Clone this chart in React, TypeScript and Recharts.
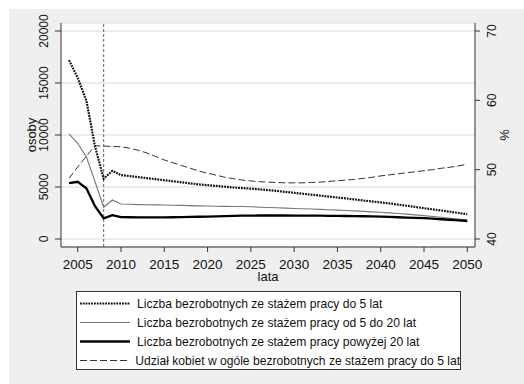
import React from "react";
import { LineChart, Line, XAxis, YAxis, CartesianGrid, ReferenceLine } from "recharts";

const years = [
  2004, 2005, 2006, 2007, 2008, 2009, 2010, 2011, 2012, 2013, 2014, 2015, 2016, 2017, 2018, 2019,
  2020, 2021, 2022, 2023, 2024, 2025, 2026, 2027, 2028, 2029, 2030, 2031, 2032, 2033, 2034, 2035,
  2036, 2037, 2038, 2039, 2040, 2041, 2042, 2043, 2044, 2045, 2046, 2047, 2048, 2049, 2050,
];

// liczba bezrobotnych ze stażem pracy do 5 lat
const stazDo5 = [
  17200, 15500, 13300, 8900, 5800, 6550, 6150, 6050, 5950, 5850, 5750, 5650, 5550, 5450, 5350, 5250,
  5180, 5100, 5030, 4950, 4900, 4840, 4780, 4700, 4620, 4530, 4440, 4350, 4260, 4170, 4080, 3990,
  3900, 3800, 3700, 3610, 3520, 3420, 3310, 3200, 3080, 2960, 2850, 2740, 2620, 2500, 2380,
];

// od 5 do 20 lat
const staz5do20 = [
  10100, 9200, 7900, 5500, 3050, 3750, 3370, 3340, 3310, 3290, 3280, 3270, 3250, 3230, 3210, 3190,
  3170, 3150, 3140, 3130, 3120, 3100, 3060, 3030, 3000, 2970, 2940, 2910, 2880, 2850, 2810, 2780,
  2740, 2700, 2660, 2610, 2570, 2510, 2450, 2390, 2320, 2250, 2170, 2090, 2000, 1910, 1820,
];

// powyżej 20 lat
const stazPow20 = [
  5380, 5500, 4880, 3150, 1990, 2300, 2100, 2090, 2080, 2080, 2080, 2080, 2090, 2100, 2120, 2140,
  2160, 2180, 2200, 2220, 2240, 2250, 2260, 2260, 2260, 2260, 2250, 2250, 2240, 2240, 2230, 2220,
  2210, 2200, 2190, 2170, 2150, 2120, 2090, 2060, 2030, 2000, 1950, 1900, 1850, 1790, 1730,
];

// udział kobiet (%), prawa oś
const udzialKobiet = [
  48.75, 50.4, 51.95, 53.45, 53.4, 53.35, 53.3, 53.1, 52.8, 52.4, 51.9, 51.4, 51.0, 50.6, 50.2, 49.8,
  49.5, 49.2, 48.9, 48.7, 48.5, 48.37, 48.27, 48.2, 48.15, 48.1, 48.1, 48.1, 48.15, 48.2, 48.3, 48.4,
  48.5, 48.6, 48.75, 48.9, 49.1, 49.25, 49.4, 49.55, 49.7, 49.85, 50.0, 50.2, 50.35, 50.55, 50.77,
];

const xTicks = [2005, 2010, 2015, 2020, 2025, 2030, 2035, 2040, 2045, 2050];
const leftTicks = [0, 5000, 10000, 15000, 20000];
const rightTicks = [40, 50, 60, 70];

const seriesNames = [
  "Liczba bezrobotnych ze stażem pracy do 5 lat",
  "Liczba bezrobotnych ze stażem pracy od 5 do 20 lat",
  "Liczba bezrobotnych ze stażem pracy powyżej 20 lat",
  "Udział kobiet w ogóle bezrobotnych ze stażem pracy do 5 lat",
];

const LEFT_DOMAIN = [-769, 20769];
const RIGHT_DOMAIN = [38.846, 71.154];

const FONT = '"Liberation Sans", Arial, Helvetica, sans-serif';

const styles = [
  { stroke: "#111", strokeWidth: 2.2, strokeDasharray: "1.8 1" },
  { stroke: "#777", strokeWidth: 1.1, strokeDasharray: undefined },
  { stroke: "#000", strokeWidth: 2.3, strokeDasharray: undefined },
  { stroke: "#333", strokeWidth: 1, strokeDasharray: "7 3" },
];

const data = years.map((year, i) => ({
  year,
  s1: stazDo5[i],
  s2: staz5do20[i],
  s3: stazPow20[i],
  s4: udzialKobiet[i],
}));

// keeps the tick marks, the labels are drawn by AxisLabels
const noTickText = () => <g />;

const Rot = ({ x, y, size, children }: any) => (
  <g transform={`translate(${x},${y})`}>
    <text x={0} y={0} transform="rotate(-90)" textAnchor="middle" fontSize={size} fontFamily={FONT} fill="#111">
      {children}
    </text>
  </g>
);

// rotated tick labels + axis title, placed inside the axis box Recharts hands to the label
const AxisLabels = ({ viewBox, ticks, domain, tickX, title, titleX }: any) => {
  const { x, y, height } = viewBox;
  const [lo, hi] = domain;
  return (
    <g>
      {ticks.map((v: number) => (
        <Rot key={v} x={x + tickX} y={y + ((hi - v) / (hi - lo)) * height} size={12}>
          {v}
        </Rot>
      ))}
      <Rot x={x + titleX} y={y + height / 2} size={13}>
        {title}
      </Rot>
    </g>
  );
};

const LegendBox = () => (
  <div
    style={{
      position: "absolute",
      left: 76,
      top: 291,
      width: 385,
      height: 79,
      boxSizing: "border-box",
      border: "1px solid #333",
      background: "#fff",
      paddingTop: 2,
      paddingLeft: 3,
      fontFamily: FONT,
      fontSize: 12.1,
      color: "#111",
    }}
  >
    {seriesNames.map((name, i) => (
      <div key={name} style={{ display: "flex", alignItems: "center", height: 19 }}>
        <svg width={50} height={19} style={{ display: "block" }}>
          <line
            x1={0}
            x2={50}
            y1={9.5}
            y2={9.5}
            stroke={styles[i].stroke}
            strokeWidth={styles[i].strokeWidth}
            strokeDasharray={styles[i].strokeDasharray}
          />
        </svg>
        <span style={{ marginLeft: 7, whiteSpace: "nowrap" }}>{name}</span>
      </div>
    ))}
  </div>
);

export default function App() {
  return (
    <div style={{ position: "absolute", left: 0, top: 0, width: 524, height: 384, background: "#fff", fontFamily: FONT }}>
      <div style={{ position: "absolute", left: 9, top: 9, right: 0, bottom: 0, background: "#efefef" }} />
      <div style={{ position: "absolute", left: 0, top: 0 }}>
        <LineChart width={524} height={384} data={data} margin={{ top: 23, right: 0, bottom: 97, left: 0 }}>
          <CartesianGrid yAxisId="left" vertical={false} fill="#fff" stroke="#e6e6e6" strokeWidth={1.5} />
          <XAxis
            dataKey="year"
            type="number"
            domain={[2003.07, 2050.89]}
            allowDataOverflow
            ticks={xTicks}
            height={40}
            tickSize={5}
            tickMargin={7}
            tick={{ fontSize: 13.5, fontFamily: FONT, fill: "#111" }}
            stroke="#333"
            label={{ value: "lata", position: "insideBottom", offset: 6, fontSize: 13, fontFamily: FONT, fill: "#111" }}
          />
          <YAxis
            yAxisId="left"
            domain={LEFT_DOMAIN}
            allowDataOverflow
            ticks={leftTicks}
            width={61}
            tickSize={6}
            tick={noTickText}
            stroke="#333"
            label={<AxisLabels ticks={leftTicks} domain={LEFT_DOMAIN} tickX={48} title="osoby" titleX={36} />}
          />
          <YAxis
            yAxisId="right"
            orientation="right"
            domain={RIGHT_DOMAIN}
            allowDataOverflow
            ticks={rightTicks}
            width={49}
            tickSize={5}
            tick={noTickText}
            stroke="#333"
            label={<AxisLabels ticks={rightTicks} domain={RIGHT_DOMAIN} tickX={21} title="%" titleX={34} />}
          />
          <ReferenceLine yAxisId="left" x={2008} stroke="#666" strokeWidth={1} strokeDasharray="3 2" />
          <Line yAxisId="right" dataKey="s4" dot={false} isAnimationActive={false} {...styles[3]} />
          <Line yAxisId="left" dataKey="s2" dot={false} isAnimationActive={false} {...styles[1]} />
          <Line yAxisId="left" dataKey="s3" dot={false} isAnimationActive={false} {...styles[2]} />
          <Line yAxisId="left" dataKey="s1" dot={false} isAnimationActive={false} {...styles[0]} />
        </LineChart>
      </div>
      <LegendBox />
    </div>
  );
}
